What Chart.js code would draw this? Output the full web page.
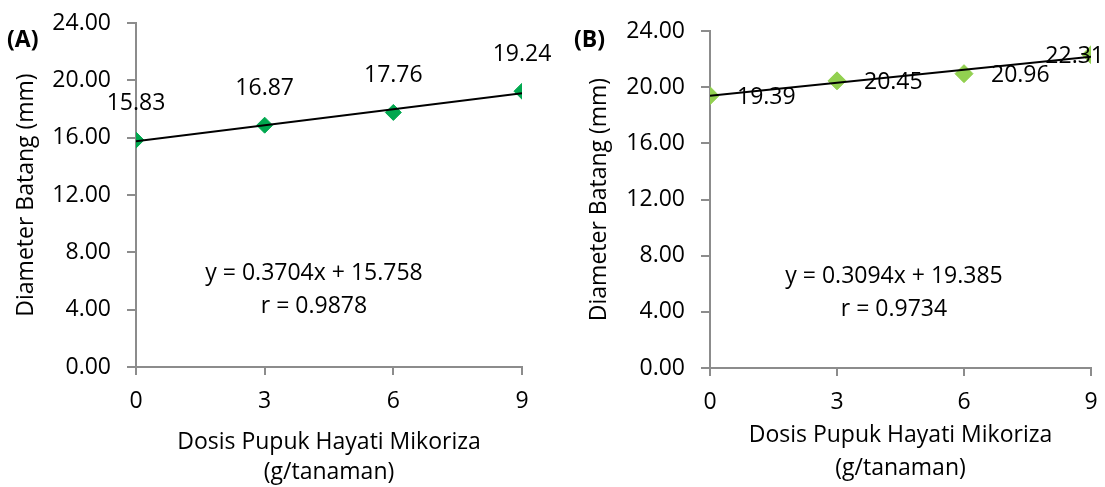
<!DOCTYPE html>
<html>
<head>
<meta charset="utf-8">
<script src="https://cdn.jsdelivr.net/npm/chart.js@4.4.0/dist/chart.umd.min.js"></script>
<style>
  html, body { margin: 0; padding: 0; background: #fff; }
  .panel { position: absolute; top: 0; height: 487px; }
  #panelA { left: 0; width: 552px; }
  #panelB { left: 552px; width: 553px; }
</style>
</head>
<body>
<div class="panel" id="panelA"><canvas id="chartA"></canvas></div>
<div class="panel" id="panelB"><canvas id="chartB"></canvas></div>
<script>
// data
const doses = [0, 3, 6, 9];
const diameterA = [15.83, 16.87, 17.76, 19.24];
const diameterB = [19.39, 20.45, 20.96, 22.31];
// trendline end points (x = 0 and x = 9)
const trendX = [0, 9];
const trendA = [15.758, 19.092];
const trendB = [19.385, 22.170];
const equationA = ['y = 0.3704x + 15.758', 'r = 0.9878'];
const equationB = ['y = 0.3094x + 19.385', 'r = 0.9734'];

const FONT = "'Open Sans', sans-serif";
const FS = 23;
const AXIS_GRAY = '#8c8c8c';

Chart.defaults.font.family = FONT;
Chart.defaults.color = '#000';

// no automatic label padding, the layout padding sets the plot box
function noPad(s){
  s.paddingLeft = 0; s.paddingRight = 0; s.paddingTop = 0; s.paddingBottom = 0;
}

// point labels + equation + panel letter
const annotate = {
  id: 'annotate',
  afterDatasetsDraw(chart, args, opts){
    const ctx = chart.ctx;
    const meta = chart.getDatasetMeta(0);
    ctx.save();
    ctx.fillStyle = '#000';
    ctx.font = FS + 'px ' + FONT;
    ctx.textBaseline = 'middle';
    meta.data.forEach((pt, i) => {
      const txt = chart.data.datasets[0].data[i].y.toFixed(2);
      const w = ctx.measureText(txt).width;
      if(opts.labelPos === 'above'){
        ctx.textAlign = 'center';
        ctx.fillText(txt, pt.x, pt.y - 37);
      } else {
        let x = pt.x + 27;
        if(x + w > chart.width - 1) x = chart.width - 1 - w;
        ctx.textAlign = 'left';
        ctx.fillText(txt, x, pt.y + 2);
      }
    });
    ctx.textAlign = 'center';
    ctx.fillText(opts.eq[0], opts.eqX, opts.eqY);
    ctx.fillText(opts.eq[1], opts.eqX, opts.eqY + 33);
    ctx.font = 'bold ' + FS + 'px ' + FONT;
    ctx.textAlign = 'left';
    ctx.fillText(opts.letter, opts.letterX, 40);
    ctx.restore();
  }
};

function makeChart(id, values, trend, color, o){
  return new Chart(document.getElementById(id), {
    type: 'scatter',
    data: {
      datasets: [
        {
          data: doses.map((d, i) => ({ x: d, y: values[i] })),
          pointStyle: 'rectRot',
          pointRadius: o.radius,
          pointBackgroundColor: color,
          pointBorderColor: color,
          pointBorderWidth: 1,
          order: 2
        },
        {
          type: 'line',
          data: trendX.map((d, i) => ({ x: d, y: trend[i] })),
          borderColor: '#000',
          borderWidth: 2,
          pointRadius: 0,
          fill: false,
          order: 1
        }
      ]
    },
    options: {
      responsive: true,
      maintainAspectRatio: false,
      animation: false,
      layout: { padding: { left: 0, top: o.top, right: o.right, bottom: 0 } },
      scales: {
        x: {
          type: 'linear',
          min: 0, max: 9,
          afterFit: s => { s.height = o.xHeight; noPad(s); },
          afterBuildTicks: s => { s.ticks = doses.map(v => ({ value: v })); },
          grid: { drawOnChartArea: false, color: AXIS_GRAY, lineWidth: 2, tickLength: 8 },
          border: { color: AXIS_GRAY, width: 2 },
          ticks: { font: { size: FS }, padding: 13, color: '#000' },
          title: {
            display: true,
            text: ['Dosis Pupuk Hayati Mikoriza', '(g/tanaman)'],
            font: { size: FS, lineHeight: o.titleLH },
            padding: { top: 0, bottom: o.titlePad },
            color: '#000'
          }
        },
        y: {
          min: 0, max: 24,
          afterFit: s => { s.width = o.yWidth; noPad(s); },
          grid: { drawOnChartArea: false, color: AXIS_GRAY, lineWidth: 2, tickLength: 9 },
          border: { color: AXIS_GRAY, width: 2 },
          ticks: { stepSize: 4, font: { size: FS }, padding: 16, color: '#000',
                   callback: v => v.toFixed(2) },
          title: {
            display: true,
            text: 'Diameter Batang (mm)',
            font: { size: FS },
            padding: { top: o.yTitlePad, bottom: 0 },
            color: '#000'
          }
        }
      },
      plugins: {
        legend: { display: false },
        tooltip: { enabled: false },
        annotate: o.annotate
      }
    },
    plugins: [annotate]
  });
}

makeChart('chartA', diameterA, trendA, '#00a84f', {
  radius: 8, top: 23, right: 30, xHeight: 120, yWidth: 136,
  titleLH: 1.3, titlePad: 0, yTitlePad: 13,
  annotate: { labelPos: 'above', eq: equationA, eqX: 314, eqY: 273, letter: '(A)', letterX: 7 }
});

makeChart('chartB', diameterB, trendB, '#92d050', {
  radius: 9, top: 31, right: 14, xHeight: 119, yWidth: 158,
  titleLH: 1.43, titlePad: 2, yTitlePad: 34,
  annotate: { labelPos: 'right', eq: equationB, eqX: 342, eqY: 276, letter: '(B)', letterX: 22 }
});
</script>
</body>
</html>
